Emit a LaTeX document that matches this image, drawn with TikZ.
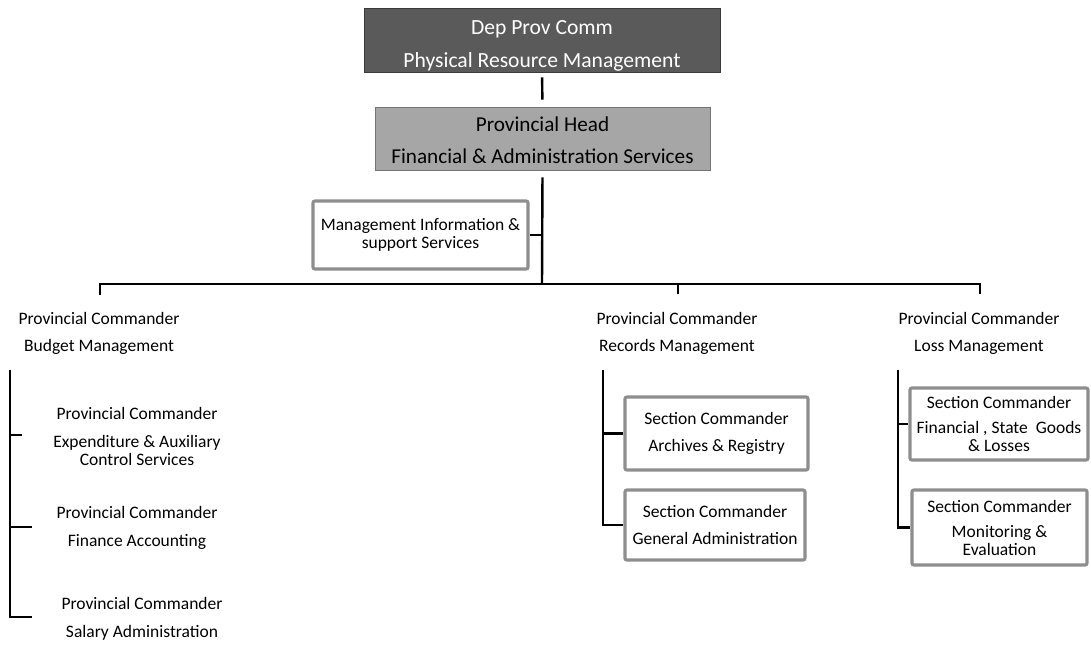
\documentclass[tikz,border=0pt]{standalone}
\usepackage{fontspec}
\setmainfont{Carlito}
\definecolor{topfill}{HTML}{5A5A5A}
\definecolor{midfill}{HTML}{A6A6A6}
\definecolor{boxline}{HTML}{8E8E8E}
\definecolor{topline}{HTML}{3A3A3A}
\tikzset{
  txt/.style={align=center, inner sep=0pt, font=\fontsize{17.5}{18}\selectfont},
  graybox/.style={txt, draw=boxline, line width=3.2pt, rounded corners=2pt, fill=white},
  topbox/.style={align=center, inner sep=0pt, draw=topline, line width=0.8pt, fill=topfill,
     text=white, font=\fontsize{21.6}{33}\selectfont, minimum width=356pt, minimum height=64pt},
  midbox/.style={align=center, inner sep=0pt, draw=midfill!70!black, line width=0.8pt, fill=midfill,
     text=black, font=\fontsize{21.2}{32}\selectfont, minimum width=335pt, minimum height=63pt},
  conn/.style={line width=2.4pt, black},
}
\begin{document}
\begin{tikzpicture}[x=1pt,y=-1pt]
\useasboundingbox (0,0) rectangle (1091,646);
% top boxes
\node[topbox] (top) at (542,40) {\rule{0pt}{26pt}Dep Prov Comm\\Physical Resource Management};
\node[midbox] (head) at (542.5,138.5) {\rule{0pt}{18pt}Provincial Head\\Financial \& Administration Services};
\node[graybox, minimum width=215pt, minimum height=68pt] (mis) at (420.5,235) {Management Information \&\\support Services};
% bus
\coordinate (bus) at (542,284);
\coordinate (busL) at (100,284);
\coordinate (busM) at (678,284);
\coordinate (busR) at (980,284);
\coordinate (dropL) at (100,295);
\coordinate (dropM) at (678,294);
\coordinate (dropR) at (980,294);
% level 2 texts
\node[txt] (budget) at (99,333.5) {Provincial Commander\\[9pt]Budget Management};
\node[txt] (records) at (677,333.5) {Provincial Commander\\[9pt]Records Management};
\node[txt] (loss) at (979,333.5) {Provincial Commander\\[9pt]Loss Management};
% budget children
\node[txt] (exp) at (137,436) {Provincial Commander\\[10pt]Expenditure \& Auxiliary\\Control Services};
\node[txt] (finacc) at (137,527.5) {Provincial Commander\\[10pt]Finance Accounting};
\node[txt] (salary) at (142,619) {Provincial Commander\\[10pt]Salary Administration};
% records children
\node[graybox, minimum width=183pt, minimum height=73pt] (archives) at (716.5,433.5) {Section Commander\\[9pt]Archives \& Registry};
\node[graybox, minimum width=180pt, minimum height=70pt] (general) at (715,525) {Section Commander\\[9pt]General Administration};
% loss children
\node[graybox, minimum width=178pt, minimum height=72pt] (finstate) at (999,424) {Section Commander\\[7pt]Financial , State\ \ Goods\\\& Losses};
\node[graybox, minimum width=175pt, minimum height=75pt] (monitor) at (999.5,527.5) {Section Commander\\[7pt]Monitoring \&\\Evaluation};
% bracket coordinates
\coordinate (bTop) at (10,370);
\coordinate (bBot) at (10,617);
\coordinate (bT1) at (22,435);
\coordinate (bT2) at (32,527);
\coordinate (bT3) at (32,617);
\coordinate (rTop) at (603,370);
\coordinate (lTop) at (898,370);
% connectors
\draw[conn, shorten <=5pt, shorten >=7pt] (top.south) -- (head.north);
\draw[conn, shorten <=7pt] (head.south) -- (bus);
\draw[conn] (dropL) -- (busL) -- (busR) -- (dropR);
\draw[conn] (busM) -- (dropM);
\draw[conn] (mis.east) -- (mis.east -| head.south);
\draw[conn] (bTop) -- (bBot) -- (bT3);
\draw[conn] (bT1 -| bTop) -- (bT1);
\draw[conn] (bT2 -| bTop) -- (bT2);
\draw[conn] (rTop) |- (general.west);
\draw[conn] (archives.west -| rTop) -- (archives.west);
\draw[conn] (lTop) |- (monitor.west);
\draw[conn] (finstate.west -| lTop) -- (finstate.west);
\end{tikzpicture}
\end{document}
